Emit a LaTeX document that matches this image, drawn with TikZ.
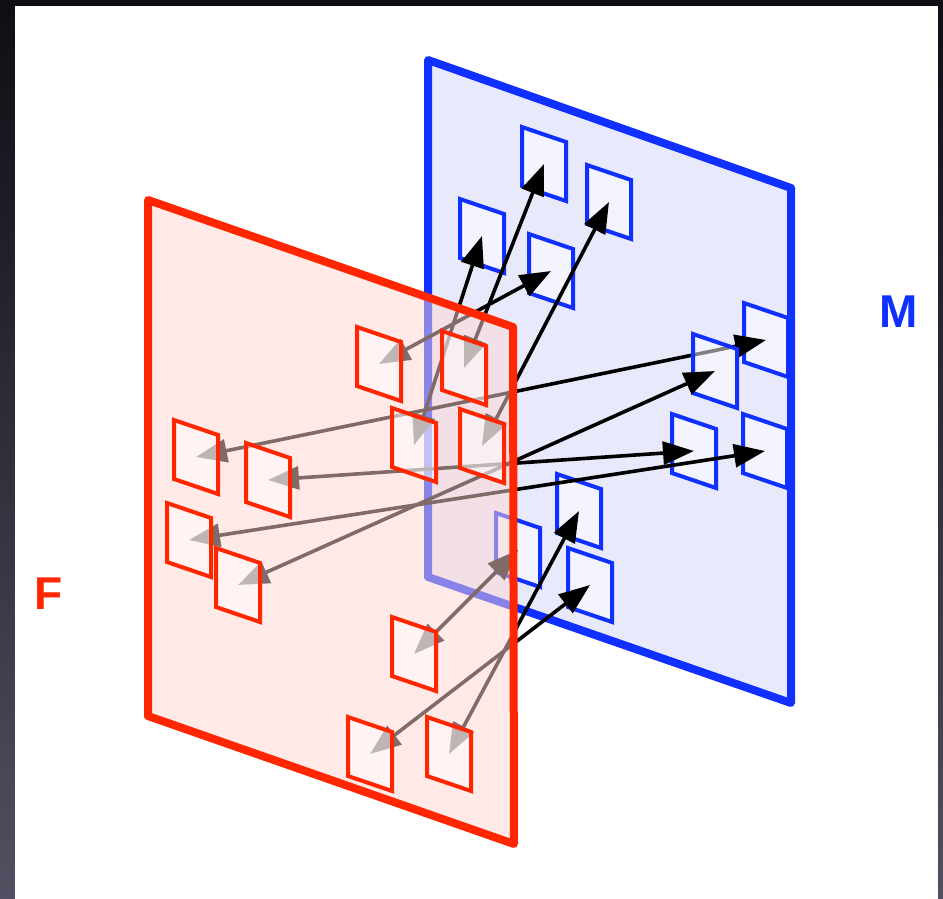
\documentclass[tikz,border=0pt]{standalone}
\usepackage{fontspec}
\newfontfamily\labfont{Liberation Sans}
\usetikzlibrary{arrows.meta}
\definecolor{redF}{RGB}{255,38,0}
\definecolor{blueM}{RGB}{15,48,255}
\definecolor{blueFill}{RGB}{232,234,252}
\definecolor{pinkFill}{RGB}{255,214,210}
\definecolor{bgTop}{RGB}{14,14,20}
\definecolor{bgBot}{RGB}{82,79,98}
\pgfdeclarelayer{bg}
\pgfdeclarelayer{bpl}
\pgfdeclarelayer{bsql}
\pgfdeclarelayer{lkA}
\pgfdeclarelayer{bsqB}
\pgfdeclarelayer{lkB}
\pgfdeclarelayer{rpl}
\pgfsetlayers{bg,bpl,bsql,lkA,bsqB,lkB,rpl,main}
\begin{document}
\begin{tikzpicture}[x=1pt,y=-1pt,
  plane/.style={line width=8pt, line join=round},
  sq/.style={shape=rectangle, minimum width=44pt, minimum height=59pt, inner sep=0pt,
    line width=4pt, fill=white, fill opacity=0.5, yslant=-0.34},
  bsq/.style={sq, draw=blueM},
  rsq/.style={sq, draw=redF},
  link/.style={black, line width=3.6pt,
    {Triangle[length=31pt,width=23pt]}-{Triangle[length=31pt,width=23pt]}},
  lab/.style={font=\labfont\bfseries\fontsize{46}{46}\selectfont, inner sep=0pt}
]
\useasboundingbox (0,0) rectangle (943,899);
\begin{pgfonlayer}{bg}
  \shade[top color=bgTop, bottom color=bgBot] (0,0) rectangle (943,899);
  \fill[white] (15,6) rectangle (938,899);
\end{pgfonlayer}
% M plane
\begin{pgfonlayer}{bpl}
  \filldraw[plane, draw=blueM, fill=blueFill] (428,60) -- (791,188) -- (791,703) -- (428,577) -- cycle;
\end{pgfonlayer}
% M squares
\begin{pgfonlayer}{bsql}
  \node[bsq] (b1) at (544,164) {};
  \node[bsq] (b2) at (609,202) {};
  \node[bsq] (b3) at (482,236) {};
  \node[bsq] (b4) at (551,271) {};
  \node[bsq] (b5) at (766,340) {};
  \node[bsq] (b7) at (694,451) {};
  \node[bsq] (b8) at (765,451) {};
  \node[bsq] (b9) at (579,511) {};
  \node[bsq] (b10) at (518,550) {};
  \node[bsq] (b11) at (590,585) {};
\end{pgfonlayer}
\begin{pgfonlayer}{bsqB}
  \node[bsq] (b6) at (715,371) {};
\end{pgfonlayer}
% F squares
\node[rsq] (r1) at (379,364) {};
\node[rsq] (r2) at (464,368) {};
\node[rsq] (r3) at (414,445) {};
\node[rsq] (r4) at (482,446) {};
\node[rsq] (r5) at (196,457) {};
\node[rsq] (r6) at (268,480) {};
\node[rsq] (r7) at (189,540) {};
\node[rsq] (r8) at (238,585) {};
\node[rsq] (r9) at (414,654) {};
\node[rsq] (r10) at (370,754) {};
\node[rsq] (r11) at (449,754) {};
% links
\begin{pgfonlayer}{lkA}
  \draw[link] (r5.center) -- (b5.center);
\end{pgfonlayer}
\begin{pgfonlayer}{lkB}
  \draw[link] (r8.center) -- (b6.center);
  \draw[link] (r6.center) -- (b7.center);
  \draw[link] (r7.center) -- (b8.center);
  \draw[link] (r4.center) -- (b2.center);
  \draw[link] (r1.center) -- (b4.center);
  \draw[link] (r2.center) -- (b1.center);
  \draw[link] (r3.center) -- (b3.center);
  \draw[link] (r9.center) -- (b10.center);
  \draw[link] (r11.center) -- (b9.center);
  \draw[link] (r10.center) -- (b11.center);
\end{pgfonlayer}
% F plane
\begin{pgfonlayer}{rpl}
  \fill[pinkFill, fill opacity=0.5] (148,200) -- (513,327) -- (514,844) -- (148,716) -- cycle;
  \draw[plane, draw=redF] (148,200) -- (513,327) -- (514,844) -- (148,716) -- cycle;
\end{pgfonlayer}
% labels
\node[lab, text=redF] (flab) at (49,594) {F};
\node[lab, text=blueM] (mlab) at (899,312) {M};
\end{tikzpicture}
\end{document}
